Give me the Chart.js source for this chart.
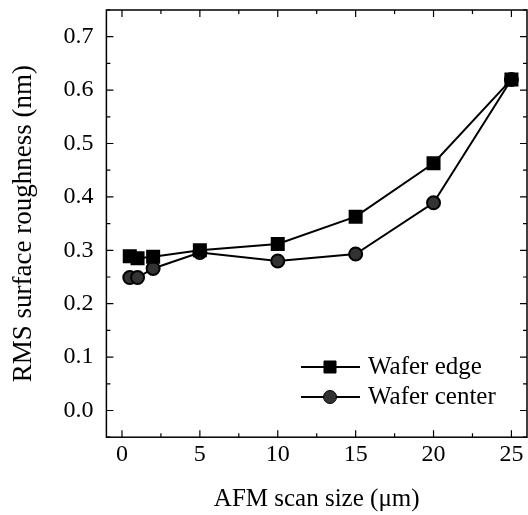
<!DOCTYPE html>
<html>
<head>
<meta charset="utf-8">
<script src="https://cdn.jsdelivr.net/npm/chart.js@4/dist/chart.umd.min.js"></script>
<style>
  body { margin: 0; background: #fff; }
  canvas { display: block; }
</style>
</head>
<body>
<canvas id="roughnessChart" width="528" height="515"></canvas>
<script>
// values
const scanSizes = [0.5, 1, 2, 5, 10, 15, 20, 25];
const edgeRoughness = [0.289, 0.285, 0.288, 0.300, 0.312, 0.363, 0.463, 0.620];
const centerRoughness = [0.249, 0.249, 0.266, 0.296, 0.280, 0.293, 0.389, 0.620];
const seriesNames = ['Wafer edge', 'Wafer center'];
const xTickValues = [0, 5, 10, 15, 20, 25];
const yTickValues = [0, 0.1, 0.2, 0.3, 0.4, 0.5, 0.6, 0.7];

const serif = "'Liberation Serif', 'Times New Roman', serif";

function toPoints(xs, ys) {
    return xs.map((x, i) => ({ x: x, y: ys[i] }));
}

// frame, inward major/minor ticks on all four sides, and the inset legend
const framePlugin = {
    id: 'frameTicks',
    afterDraw(chart) {
        const ctx = chart.ctx;
        const area = chart.chartArea;
        const xs = chart.scales.x;
        const ys = chart.scales.y;
        ctx.save();
        ctx.strokeStyle = '#000';
        ctx.lineWidth = 1.5;
        ctx.strokeRect(area.left, area.top, area.right - area.left, area.bottom - area.top);

        ctx.lineWidth = 1.2;
        ctx.beginPath();
        for (let v = 0; v <= 25.001; v += 2.5) {
            const len = (Math.round(v * 10) % 50 === 0) ? 7 : 4;
            const px = xs.getPixelForValue(v);
            ctx.moveTo(px, area.bottom); ctx.lineTo(px, area.bottom - len);
            ctx.moveTo(px, area.top); ctx.lineTo(px, area.top + len);
        }
        for (let i = -1; i <= 15; i++) {
            const v = i * 0.05;
            const len = (i % 2 === 0) ? 7 : 4;
            const py = ys.getPixelForValue(v);
            ctx.moveTo(area.left, py); ctx.lineTo(area.left + len, py);
            ctx.moveTo(area.right, py); ctx.lineTo(area.right - len, py);
        }
        ctx.stroke();

        // legend
        const rows = [367, 397];
        chart.data.datasets.forEach((ds, i) => {
            const y = rows[i];
            ctx.strokeStyle = ds.borderColor;
            ctx.lineWidth = ds.borderWidth;
            ctx.beginPath();
            ctx.moveTo(301, y);
            ctx.lineTo(360, y);
            ctx.stroke();
            ctx.fillStyle = ds.pointBackgroundColor;
            ctx.strokeStyle = ds.pointBorderColor;
            ctx.lineWidth = 1;
            Chart.helpers.drawPoint(ctx, { pointStyle: ds.pointStyle, radius: ds.pointRadius, borderWidth: 1, rotation: 0 }, 330, y);
            ctx.fillStyle = '#000';
            ctx.font = '25px ' + serif;
            ctx.textBaseline = 'middle';
            ctx.textAlign = 'left';
            ctx.fillText(ds.label, 368, y);
        });
        ctx.restore();
    }
};

const ctx = document.getElementById('roughnessChart').getContext('2d');
new Chart(ctx, {
    type: 'line',
    data: {
        datasets: [{
            label: seriesNames[0],
            data: toPoints(scanSizes, edgeRoughness),
            borderColor: '#000',
            borderWidth: 2,
            pointStyle: 'rect',
            pointRadius: 8.5,
            pointBackgroundColor: '#000',
            pointBorderColor: '#000',
            fill: false,
        }, {
            label: seriesNames[1],
            data: toPoints(scanSizes, centerRoughness),
            borderColor: '#000',
            borderWidth: 2,
            pointStyle: 'circle',
            pointRadius: 6.5,
            pointBackgroundColor: '#333',
            pointBorderColor: '#000',
            fill: false,
        }]
    },
    options: {
        responsive: false,
        animation: false,
        layout: { autoPadding: false, padding: { top: 10, right: 1, bottom: 1, left: 4 } },
        plugins: {
            legend: { display: false },
            tooltip: { enabled: false }
        },
        scales: {
            x: {
                type: 'linear',
                min: -1,
                max: 26,
                afterBuildTicks: (scale) => { scale.ticks = xTickValues.map(v => ({ value: v })); },
                afterFit: (scale) => { scale.paddingLeft = 0; scale.paddingRight = 0; },
                grid: { display: false, drawTicks: false },
                border: { display: false },
                ticks: {
                    padding: 3,
                    color: '#000',
                    font: { family: serif, size: 24 }
                },
                title: {
                    display: true,
                    text: 'AFM scan size (μm)',
                    color: '#000',
                    font: { family: serif, size: 25 },
                    padding: { top: 12, bottom: 0 }
                }
            },
            y: {
                min: -0.05,
                max: 0.75,
                afterBuildTicks: (scale) => { scale.ticks = yTickValues.map(v => ({ value: v })); },
                afterFit: (scale) => { scale.paddingTop = 0; scale.paddingBottom = 0; },
                grid: { display: false, drawTicks: false },
                border: { display: false },
                ticks: {
                    padding: 13,
                    color: '#000',
                    font: { family: serif, size: 24 },
                    callback: (v) => v.toFixed(1)
                },
                title: {
                    display: true,
                    text: 'RMS surface roughness (nm)',
                    color: '#000',
                    font: { family: serif, size: 27 },
                    padding: { top: 4, bottom: 10 }
                }
            }
        }
    },
    plugins: [framePlugin]
});
</script>
</body>
</html>
